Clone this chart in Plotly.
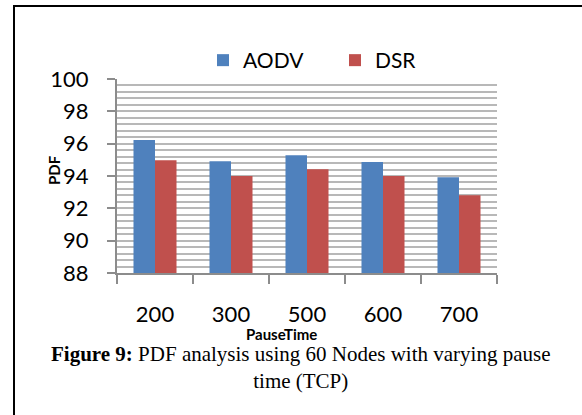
import plotly.graph_objects as go

# ---- data ----
pause_time = ["200", "300", "500", "600", "700"]
aodv = [96.22, 94.92, 95.29, 94.86, 93.93]
dsr = [94.98, 94.00, 94.42, 94.00, 92.81]
y_ticks = [88, 90, 92, 94, 96, 98, 100]

W, H = 582, 415
L, R, T, B = 117, 85, 79, 142
pw, ph = W - L - R, H - T - B

def px_x(x):
    return (x - L) / pw

def px_y(y):
    return (H - B - y) / ph

fig = go.Figure()
fig.add_trace(go.Bar(name="AODV", x=pause_time, y=aodv, marker_color="#4F81BD",
                     marker_line_width=0))
fig.add_trace(go.Bar(name="DSR", x=pause_time, y=dsr, marker_color="#C0504D",
                     marker_line_width=0))

tick_font = dict(family="Lato", size=22, color="black")

fig.update_layout(
    width=W, height=H,
    margin=dict(l=L, r=R, t=T, b=B, pad=0),
    paper_bgcolor="white", plot_bgcolor="white",
    barmode="group", bargap=0.434, bargroupgap=0,
    showlegend=True,
    legend=dict(orientation="h", x=px_x(203), xanchor="left",
                y=px_y(40), yanchor="top",
                font=dict(family="Lato", size=21, color="black"),
                entrywidth=87, entrywidthmode="pixels",
                bgcolor="rgba(0,0,0,0)", itemclick=False),
    xaxis=dict(
        type="category", showline=True, linecolor="#8c8c8c", linewidth=2,
        ticks="outside", ticklen=9, tickcolor="#8c8c8c", tickwidth=2,
        tickson="boundaries", tickfont=tick_font, ticklabelstandoff=21,
        showgrid=False, zeroline=False, mirror=False,
    ),
    yaxis=dict(
        range=[88, 100], tickvals=y_ticks, ticktext=[str(v) for v in y_ticks],
        showline=True, linecolor="#8c8c8c", linewidth=2,
        ticks="outside", ticklen=8, tickcolor="#8c8c8c", tickwidth=2,
        tickfont=tick_font, ticklabelstandoff=14,
        showgrid=True, gridcolor="#b8b8b8", gridwidth=1.6,
        minor=dict(dtick=0.4, tick0=88, showgrid=True, gridcolor="#b8b8b8",
                   gridwidth=1.6, ticks=""),
        zeroline=False,
    ),
    shapes=[
        dict(type="line", xref="paper", yref="paper",
             x0=px_x(14), x1=px_x(14), y0=px_y(6), y1=px_y(W + 10),
             line=dict(color="black", width=2)),
        dict(type="line", xref="paper", yref="paper",
             x0=px_x(13), x1=px_x(W + 10), y0=px_y(6), y1=px_y(6),
             line=dict(color="black", width=2)),
    ],
    annotations=[
        dict(text="<b>PDF</b>", xref="paper", yref="paper", x=px_x(54), y=px_y(170),
             showarrow=False, textangle=-90, xanchor="center", yanchor="middle",
             font=dict(family="Lato", size=15, color="black")),
        dict(text="<b>PauseTime</b>", xref="paper", yref="paper", x=px_x(281), y=px_y(334),
             showarrow=False, xanchor="center", yanchor="middle",
             font=dict(family="Lato", size=15, color="black")),
        dict(text="<b>Figure 9:</b> PDF analysis using 60 Nodes with varying pause<br>time (TCP)",
             xref="paper", yref="paper", x=px_x(301), y=px_y(367),
             showarrow=False, xanchor="center", yanchor="middle", align="center",
             font=dict(family="Liberation Serif", size=21, color="black")),
    ],
)

fig.write_html("out.html")
